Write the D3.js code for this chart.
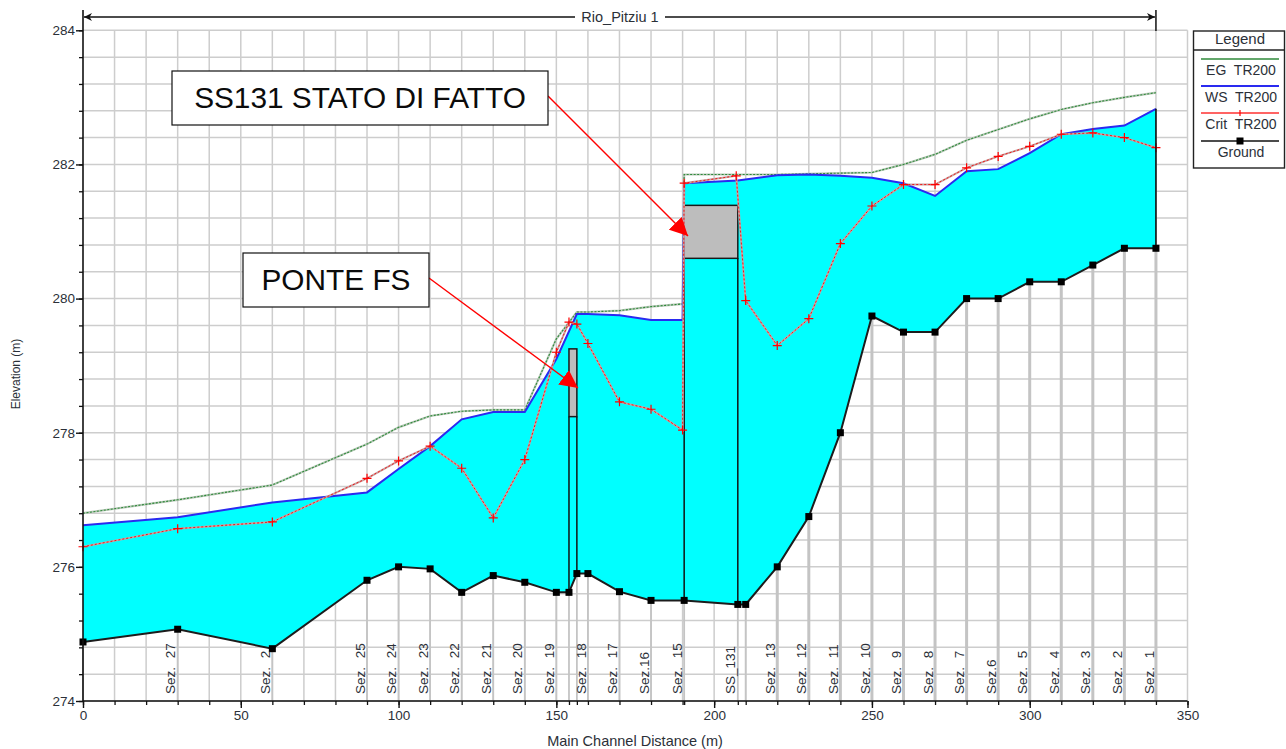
<!DOCTYPE html>
<html>
<head>
<meta charset="utf-8">
<script src="https://cdn.jsdelivr.net/npm/d3@7/dist/d3.min.js"></script>
<style>
html,body{margin:0;padding:0;background:#fff;overflow:hidden}
svg{display:block;font-family:"Liberation Sans",Arial,sans-serif}
</style>
</head>
<body>
<svg id="c" width="1286" height="749"></svg>
<script>
const groundX = [0,30,60,90,100,110,120,130,140,150,154,156.5,160,170,180,190.5,207.5,210,220,230,240,250,260,270,280,290,300,310,320,330,340];
const groundY = [274.88,275.07,274.78,275.8,276.0,275.97,275.62,275.87,275.77,275.62,275.62,275.9,275.9,275.63,275.5,275.5,275.44,275.44,276.0,276.75,278.0,279.74,279.5,279.5,280.0,280.0,280.25,280.25,280.5,280.75,280.75];
const profileX = [0,30,60,90,100,110,120,130,140,150,156.5,160,170,180,190,190.5,207.5,220,230,240,250,260,270,280,290,300,310,320,330,340];
const wsY = [276.62,276.74,276.96,277.11,277.46,277.8,278.2,278.31,278.31,279.1,279.77,279.77,279.75,279.68,279.68,281.72,281.76,281.84,281.85,281.83,281.8,281.72,281.53,281.9,281.93,282.17,282.45,282.53,282.58,282.83];
const egY = [276.8,277.0,277.22,277.83,278.08,278.25,278.32,278.34,278.34,279.4,279.8,279.8,279.82,279.88,279.92,281.85,281.85,281.85,281.86,281.87,281.88,282.0,282.15,282.36,282.52,282.68,282.82,282.92,283.0,283.07];
const critX = [0,30,60,90,100,110,120,130,140,150,154,156.5,160,170,180,190,190.5,207,210,220,230,240,250,260,270,280,290,300,310,320,330,340];
const critY = [276.3,276.57,276.67,277.32,277.58,277.8,277.47,276.73,277.6,279.2,279.65,279.62,279.33,278.46,278.35,278.04,281.72,281.83,279.97,279.3,279.7,280.82,281.38,281.7,281.7,281.95,282.12,282.27,282.45,282.47,282.4,282.25];
const labelX = [30,60,90,100,110,120,130,140,150,160,170,180,190.5,207.5,220,230,240,250,260,270,280,290,300,310,320,330,340];
const sectionLabels = ["Sez. 27","Sez. 2","Sez. 25","Sez. 24","Sez. 23","Sez. 22","Sez. 21","Sez. 20","Sez. 19","Sez. 18","Sez. 17","Sez.16","Sez. 15","SS_131","Sez. 13","Sez. 12","Sez. 11","Sez. 10","Sez. 9","Sez. 8","Sez. 7","Sez.6","Sez. 5","Sez. 4","Sez. 3","Sez. 2","Sez. 1"];
const structX = [[154,156.5],[190.5,207.5]];
const deckTop = [279.25,281.39];
const deckBottom = [278.24,280.6];
const xTicks = [0,50,100,150,200,250,300,350];
const yTicks = [274,276,278,280,282,284];
const legendNames = ["EG  TR200","WS  TR200","Crit  TR200","Ground"];
const notes = ["SS131 STATO DI FATTO","PONTE FS"];
const reachName = "Rio_Pitziu 1";

const svg = d3.select("#c");
const x = d3.scaleLinear().domain([0,350]).range([83,1187.5]);
const y = d3.scaleLinear().domain([274,284]).range([701,30.3]);
const txt = "#2b3038";
const defs = svg.append("defs");
defs.append("marker").attr("id","ah").attr("viewBox","0 0 10 10").attr("refX",10).attr("refY",5)
  .attr("markerWidth",18).attr("markerHeight",18).attr("markerUnits","userSpaceOnUse").attr("orient","auto")
  .append("path").attr("d","M0,0L10,5L0,10Z").attr("fill","#ff0000");
defs.append("marker").attr("id","tip").attr("viewBox","0 0 10 10").attr("refX",10).attr("refY",5)
  .attr("markerWidth",8).attr("markerHeight",8).attr("markerUnits","userSpaceOnUse").attr("orient","auto-start-reverse")
  .append("path").attr("d","M0,0L10,5L0,10L3,5Z").attr("fill","#111");

// grid
const gridC = "#cdcdcd";
const g = svg.append("g");
g.selectAll(".gx").data(d3.range(10,351,10)).join("line")
  .attr("x1",d=>x(d)).attr("x2",d=>x(d)).attr("y1",y(284)).attr("y2",y(274))
  .attr("stroke",gridC).attr("stroke-width",1.5);
g.selectAll(".gy").data(d3.range(0,26).map(i=>274+i*0.4)).join("line")
  .attr("x1",x(0)).attr("x2",x(350)).attr("y1",d=>y(d)).attr("y2",d=>y(d))
  .attr("stroke",gridC).attr("stroke-width",1.5);
// section drop lines
g.selectAll(".sec").data(groundX).join("line")
  .attr("x1",d=>x(d)).attr("x2",d=>x(d)).attr("y1",(d,i)=>y(groundY[i])).attr("y2",y(274))
  .attr("stroke","#c4c4c4").attr("stroke-width",(d)=>d>=220?3:1.8);

// flow area
const wsPts = profileX.map((d,i)=>[d,wsY[i]]);
const gPts = groundX.map((d,i)=>[d,groundY[i]]);
const line = d3.line().x(d=>x(d[0])).y(d=>y(d[1]));
svg.append("path").attr("d",line(wsPts.concat(gPts.slice().reverse()))+"Z").attr("fill","#00ffff");

// structures
structX.forEach((s,i)=>{
  const gTop = y(deckTop[i]), gBot = y(deckBottom[i]);
  svg.append("rect").attr("x",x(s[0])).attr("width",x(s[1])-x(s[0])).attr("y",gTop).attr("height",gBot-gTop)
    .attr("fill","#bdbdbd").attr("stroke","#1a1a1a").attr("stroke-width",1.5);
  [0,1].forEach(k=>{
    const gv = groundY[groundX.indexOf(s[k])];
    svg.append("line").attr("x1",x(s[k])).attr("x2",x(s[k])).attr("y1",gBot).attr("y2",y(gv))
      .attr("stroke","#111").attr("stroke-width",1.5);
  });
});

// profile lines
svg.append("path").attr("d",line(profileX.map((d,i)=>[d,egY[i]]))).attr("fill","none").attr("stroke","#b9c9b9").attr("stroke-width",2.2);
svg.append("path").attr("d",line(profileX.map((d,i)=>[d,egY[i]]))).attr("fill","none").attr("stroke","#2f8a3a").attr("stroke-width",1.1).attr("stroke-dasharray","2 1.5");
svg.append("path").attr("d",line(wsPts)).attr("fill","none").attr("stroke","#2a2af0").attr("stroke-width",2);
svg.append("path").attr("d",line(critX.map((d,i)=>[d,critY[i]]))).attr("fill","none").attr("stroke","#c9a3a3").attr("stroke-width",2);
svg.append("path").attr("d",line(critX.map((d,i)=>[d,critY[i]]))).attr("fill","none").attr("stroke","#f01818").attr("stroke-width",1).attr("stroke-dasharray","2 2");
svg.selectAll(".cp").data(critX).join("path")
  .attr("d",(d,i)=>`M${x(d)-4.5},${y(critY[i])}h9M${x(d)},${y(critY[i])-4.5}v9`)
  .attr("stroke","#ff0000").attr("stroke-width",1.2);

// ground
svg.append("path").attr("d",line(gPts)).attr("fill","none").attr("stroke","#1c1c1c").attr("stroke-width",2);
svg.append("line").attr("x1",x(340)).attr("x2",x(340)).attr("y1",y(wsY[wsY.length-1])).attr("y2",y(groundY[groundY.length-1])).attr("stroke","#111").attr("stroke-width",1.6);
svg.selectAll(".gm").data(groundX).join("rect")
  .attr("x",d=>x(d)-3.5).attr("y",(d,i)=>y(groundY[i])-3.5).attr("width",7).attr("height",7).attr("fill","#000");

// section labels
svg.selectAll(".sl").data(labelX).join("text")
  .attr("transform",d=>`translate(${x(d)-1},694) rotate(-90)`)
  .attr("font-size",13.5).attr("fill",txt).attr("word-spacing",5)
  .attr("dy","-0.1em").text((d,i)=>sectionLabels[i]);

// axes
const xAxis = d3.axisBottom(x).tickValues(xTicks).tickSize(7).tickPadding(2).tickFormat(d3.format("d"));
const yAxis = d3.axisLeft(y).tickValues(yTicks).tickSize(7).tickPadding(1).tickFormat(d3.format("d"));
const xg = svg.append("g").attr("transform",`translate(0,${y(274)})`).call(xAxis);
const yg = svg.append("g").attr("transform",`translate(${x(0)},0)`).call(yAxis);
[xg,yg].forEach(s=>{
  s.selectAll("text").attr("font-size",13.5).attr("font-family","inherit").attr("fill",txt);
  s.selectAll("line").attr("stroke","#111").attr("stroke-width",1.4);
  s.select(".domain").remove();
});
svg.append("line").attr("x1",83).attr("x2",x(350)).attr("y1",y(274)).attr("y2",y(274)).attr("stroke","#111").attr("stroke-width",1.6);
svg.append("line").attr("x1",83).attr("x2",83).attr("y1",10).attr("y2",y(274)).attr("stroke","#111").attr("stroke-width",1.6);
const xm = d3.axisBottom(x).tickValues(d3.range(0,351,10).concat(groundX.filter(d=>d%10))).tickSize(4).tickFormat("");
const ym = d3.axisLeft(y).tickValues(d3.range(0,26).map(i=>274+i*0.4)).tickSize(4).tickFormat("");
[svg.append("g").attr("transform",`translate(0,${y(274)})`).call(xm),svg.append("g").attr("transform",`translate(83,0)`).call(ym)].forEach(s=>{
  s.selectAll("line").attr("stroke","#111").attr("stroke-width",1.3);
  s.select(".domain").remove();
});
svg.append("text").attr("x",635).attr("y",746).attr("text-anchor","middle").attr("font-size",14.5).attr("fill",txt).text("Main Channel Distance (m)");
svg.append("text").attr("transform","translate(20,374) rotate(-90)").attr("text-anchor","middle").attr("font-size",12).attr("fill",txt).text("Elevation (m)");

// reach bar
svg.append("line").attr("x1",x(0)+1).attr("x2",x(340)-1).attr("y1",17).attr("y2",17).attr("stroke","#111").attr("stroke-width",1.3)
  .attr("marker-start","url(#tip)").attr("marker-end","url(#tip)");
svg.append("line").attr("x1",x(340)).attr("x2",x(340)).attr("y1",10).attr("y2",31).attr("stroke","#111").attr("stroke-width",1.5);
svg.append("rect").attr("x",575).attr("y",10).attr("width",90).attr("height",14).attr("fill","#fff");
svg.append("text").attr("x",620).attr("y",22).attr("text-anchor","middle").attr("font-size",14.5).attr("fill",txt).text(reachName);

// legend
const L = svg.append("g");
L.append("rect").attr("x",1193.5).attr("y",31).attr("width",91).attr("height",137).attr("fill","#fff").attr("stroke","#222").attr("stroke-width",1.4);
L.append("line").attr("x1",1193.5).attr("x2",1284.5).attr("y1",50).attr("y2",50).attr("stroke","#222").attr("stroke-width",1.4);
L.append("text").attr("x",1240).attr("y",44).attr("text-anchor","middle").attr("font-size",15).attr("fill",txt).text("Legend");
const lineY = [59,86,113,141], legC = ["#2f8a3a","#2a2af0","#ff3030","#111"];
legendNames.forEach((n,i)=>{
  L.append("line").attr("x1",1201).attr("x2",1279).attr("y1",lineY[i]).attr("y2",lineY[i]).attr("stroke",legC[i]).attr("stroke-width",i===1?2:1.5);
  L.append("text").attr("x",1241).attr("y",lineY[i]+16).attr("text-anchor","middle").attr("font-size",14).attr("fill",txt).style("white-space","pre").text(n);
});
L.append("line").attr("x1",1240).attr("x2",1240).attr("y1",110).attr("y2",116).attr("stroke","#ff0000").attr("stroke-width",1.2);
L.append("rect").attr("x",1236.5).attr("y",137.5).attr("width",7).attr("height",7).attr("fill","#000");

// annotations
const boxes = [[172,71,376,54],[243,253,186,54]];
const arrows = [[548,96,688,236],[429,278,578,388]];
boxes.forEach((b,i)=>{
  svg.append("line").attr("x1",arrows[i][0]).attr("y1",arrows[i][1]).attr("x2",arrows[i][2]).attr("y2",arrows[i][3])
    .attr("stroke","#ff0000").attr("stroke-width",1.4).attr("marker-end","url(#ah)");
  svg.append("rect").attr("x",b[0]).attr("y",b[1]).attr("width",b[2]).attr("height",b[3]).attr("fill","#fff").attr("stroke","#111").attr("stroke-width",1.2);
  svg.append("text").attr("x",b[0]+b[2]/2).attr("y",b[1]+b[3]/2+10).attr("text-anchor","middle").attr("font-size",29.8).attr("fill","#0b0b0b").text(notes[i]);
});
</script>
</body>
</html>
